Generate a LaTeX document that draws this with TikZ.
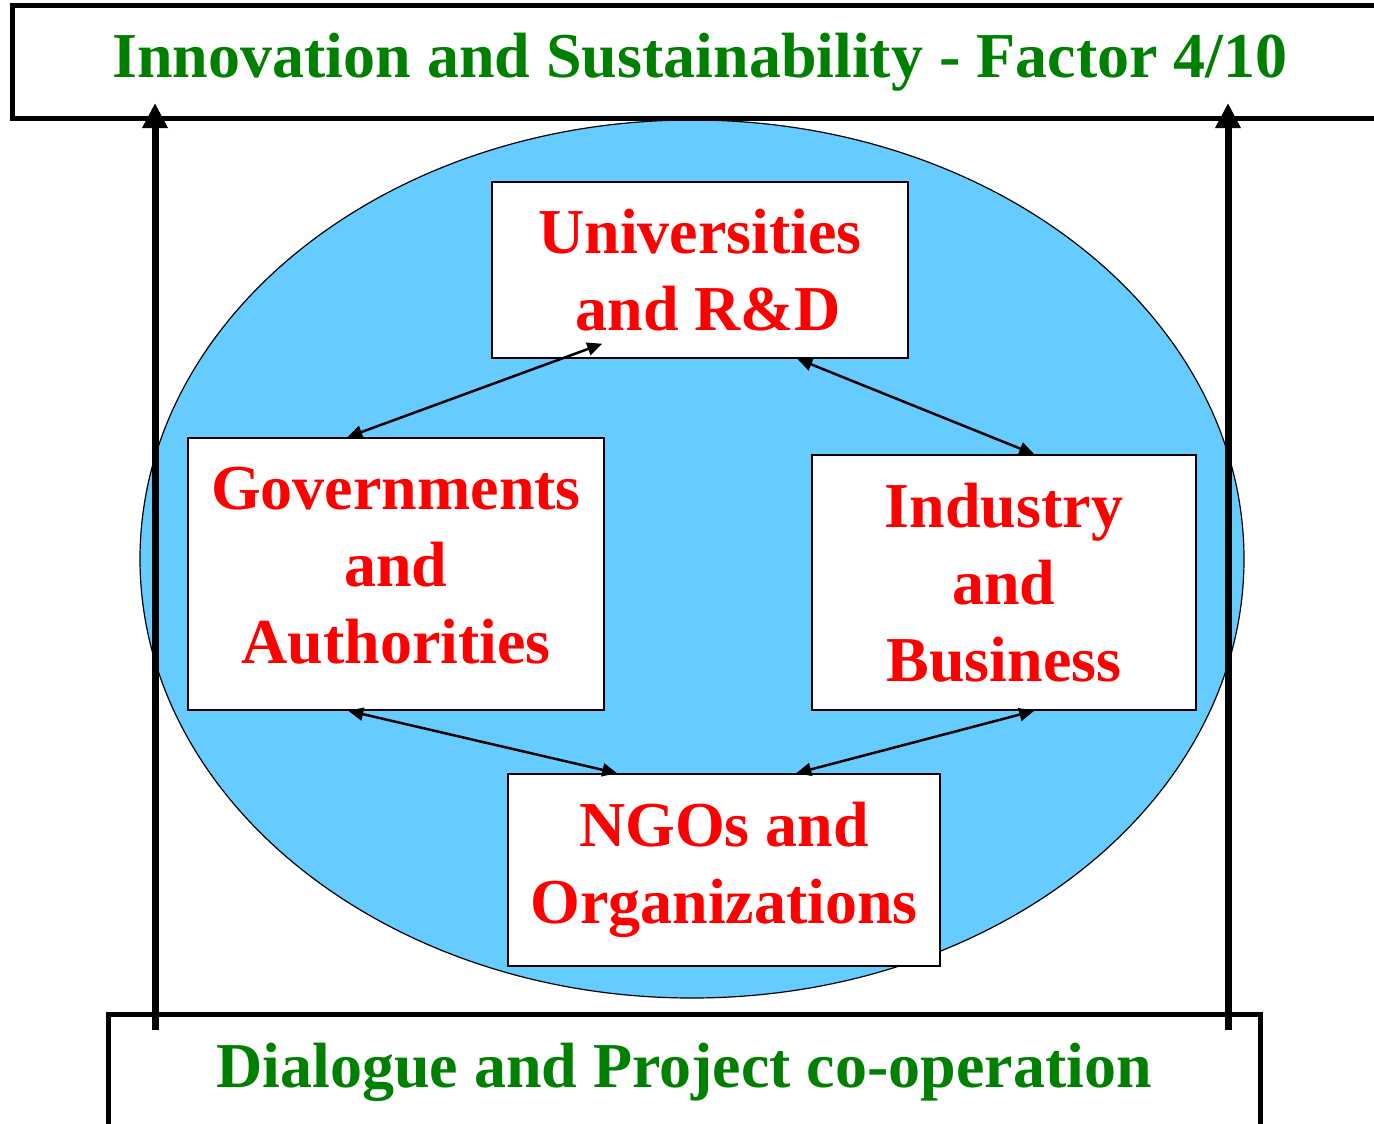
\documentclass[tikz,border=0pt]{standalone}
\usepackage{fontspec}
\setmainfont{Liberation Serif}
\usetikzlibrary{arrows.meta,shapes.geometric}
\definecolor{skyfill}{RGB}{102,204,255}
\definecolor{titlegreen}{RGB}{0,128,0}
\definecolor{actorred}{RGB}{255,0,0}
\begin{document}
\begin{tikzpicture}[x=1pt,y=-1pt,
  bigfont/.style={font=\fontsize{64}{77}\selectfont\bfseries},
  framebox/.style={draw=black,line width=5pt,fill=white,inner sep=0pt,text=titlegreen,bigfont},
  actorbox/.style={draw=black,line width=1.5pt,fill=white,inner sep=0pt,align=center,text=actorred,bigfont},
  linkarrow/.style={line width=2.5pt,{Triangle[length=15pt,width=13pt]}-{Triangle[length=15pt,width=13pt]}},
  bigarrow/.style={line width=7pt,-{Triangle[length=25pt,width=24pt]}}]
\useasboundingbox (0,0) rectangle (1374,1124);
\clip (0,0) rectangle (1374,1124);
\node[ellipse,draw=black,line width=1.2pt,fill=skyfill,minimum width=1104pt,minimum height=878pt,inner sep=0pt] (oval) at (692,559) {};
\node[framebox,minimum width=1376pt,minimum height=112pt] (top) at (700,62) {Innovation and Sustainability - Factor 4/10};
\node[framebox,minimum width=1152pt,minimum height=115pt] (bottom) at (684,1072) {Dialogue and Project co-operation};
\node[actorbox,minimum width=416pt,minimum height=176pt] (univ) at (700,270) {Universities\\ \ and R\&D};
\node[actorbox,minimum width=416pt,minimum height=272pt] (gov) at (396,574) {Governments\\and\\Authorities\rule[-17pt]{0pt}{17pt}};
\node[actorbox,minimum width=384pt,minimum height=255pt] (ind) at (1004,582.5) {Industry\\and\\Business};
\node[actorbox,minimum width=432pt,minimum height=192pt] (ngo) at (724,870) {NGOs and\\Organizations};
\draw[linkarrow] ([xshift=111pt,yshift=15pt]univ.south west) -- ([xshift=160pt]gov.north west);
\draw[linkarrow] ([xshift=306pt]univ.south west) -- ([xshift=223pt]ind.north west);
\draw[linkarrow] ([xshift=161pt]gov.south west) -- ([xshift=110pt]ngo.north west);
\draw[linkarrow] ([xshift=223pt]ind.south west) -- ([xshift=289pt]ngo.north west);
\coordinate (lbase) at (155,1030);
\coordinate (ltip) at (155,103);
\coordinate (rbase) at (1228,1030);
\coordinate (rtip) at (1228,103);
\draw[bigarrow] (lbase) -- (ltip);
\draw[bigarrow] (rbase) -- (rtip);
\end{tikzpicture}
\end{document}
